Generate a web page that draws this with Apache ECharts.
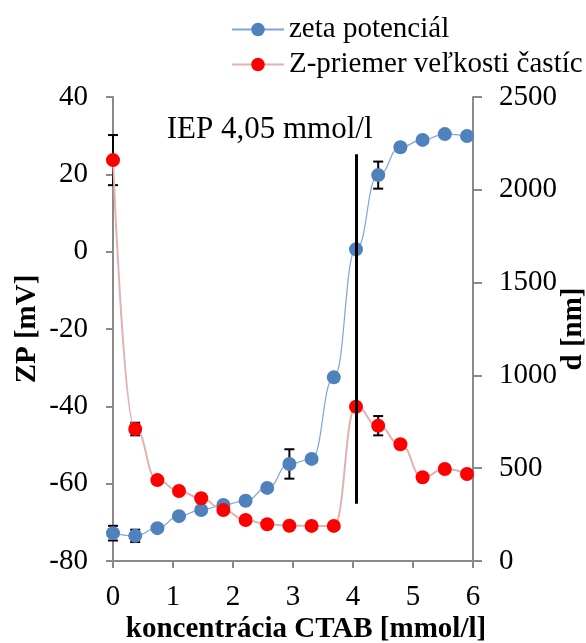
<!DOCTYPE html>
<html>
<head>
<meta charset="utf-8">
<script src="https://cdn.jsdelivr.net/npm/echarts@6/dist/echarts.min.js"></script>
<style>
  html, body { margin: 0; padding: 0; background: #fff; }
  #chart { width: 586px; height: 643px; }
</style>
</head>
<body>
<div id="chart"></div>
<script>
// CTAB concentration [mmol/l]
const concentration = [0, 0.37, 0.74, 1.10, 1.47, 1.84, 2.21, 2.57, 2.94, 3.31, 3.68, 4.05, 4.42, 4.79, 5.16, 5.53, 5.90];
// zeta potential [mV]
const zetaPotential = [-72.8, -73.5, -71.5, -68.4, -66.8, -65.5, -64.4, -61.1, -54.9, -53.6, -32.5, 0.6, 19.8, 27.0, 28.9, 30.4, 29.9];
const zetaError     = [1.9, 1.6, 0, 0, 0, 0, 0, 0, 3.8, 0, 0, 0, 3.5, 0, 0, 0, 0];
// Z-average particle size [nm]
const particleSize  = [2160, 711, 436, 377, 338, 275, 221, 198, 190, 189, 189, 831, 729, 629, 451, 496, 469];
const sizeError     = [135, 34, 0, 0, 0, 0, 0, 0, 0, 0, 0, 0, 52, 0, 0, 20, 0];

// isoelectric point
const iepConcentration = 4.05;
const iepLineRange = [-65.2, 25.2];
const iepLabel = 'IEP 4,05 mmol/l';
const iepLabelAt = [2.61, 31.5];

// axis scales
const xTicks = { min: 0, max: 6, interval: 1 };
const zpTicks = { min: -80, max: 40, interval: 20 };
const dTicks = { min: 0, max: 2500, interval: 500 };

const FONT = '"Liberation Serif", "Times New Roman", serif';
const AXIS_GREY = '#8a8a8a';

function pairs(xs, ys) { return xs.map((x, i) => [x, ys[i]]); }
function errorItems(xs, ys, es) {
  const out = [];
  xs.forEach((x, i) => { if (es[i] > 0) out.push([x, ys[i], es[i]]); });
  return out;
}

function renderErrorBar(params, api) {
  const x = api.value(0), y = api.value(1), e = api.value(2);
  const top = api.coord([x, y + e]);
  const bot = api.coord([x, y - e]);
  const cap = 5;
  const style = { stroke: '#000', lineWidth: 2 };
  return {
    type: 'group',
    children: [
      { type: 'line', shape: { x1: top[0], y1: top[1], x2: bot[0], y2: bot[1] }, style },
      { type: 'line', shape: { x1: top[0] - cap, y1: top[1], x2: top[0] + cap, y2: top[1] }, style },
      { type: 'line', shape: { x1: bot[0] - cap, y1: bot[1], x2: bot[0] + cap, y2: bot[1] }, style }
    ]
  };
}

function axisCommon() {
  return {
    axisLine: { show: true, onZero: false, lineStyle: { color: AXIS_GREY, width: 2 } },
    axisTick: { show: true, length: 7, lineStyle: { color: AXIS_GREY, width: 2 } },
    axisLabel: { color: '#000', fontFamily: FONT, fontSize: 29 },
    splitLine: { show: false },
    nameMoveOverlap: false,
    nameTextStyle: { color: '#000', fontFamily: FONT, fontSize: 29, fontWeight: 'bold' }
  };
}

const plain = (v) => String(v);

const chart = echarts.init(document.getElementById('chart'), null, { renderer: 'canvas' });

chart.setOption({
  animation: false,
  backgroundColor: '#fff',
  grid: { left: 113, right: 113, top: 97, bottom: 82, containLabel: false, outerBoundsMode: 'none' },
  legend: {
    data: ['zeta potenciál', 'Z-priemer veľkosti častíc'],
    orient: 'vertical',
    left: 226,
    top: 9,
    itemWidth: 52,
    itemHeight: 17,
    itemGap: 4,
    textStyle: { color: '#000', fontFamily: FONT, fontSize: 29, lineHeight: 31 }
  },
  xAxis: Object.assign(axisCommon(), {
    type: 'value',
    min: xTicks.min, max: xTicks.max, interval: xTicks.interval,
    name: 'koncentrácia CTAB [mmol/l]',
    nameLocation: 'middle',
    nameGap: 54,
    nameTextStyle: { color: '#000', fontFamily: FONT, fontSize: 29, fontWeight: 'bold', padding: [0, 0, 0, 26] },
    axisLabel: { color: '#000', fontFamily: FONT, fontSize: 29, margin: 22, formatter: plain }
  }),
  yAxis: [
    Object.assign(axisCommon(), {
      type: 'value',
      position: 'left',
      min: zpTicks.min, max: zpTicks.max, interval: zpTicks.interval,
      name: 'ZP [mV]',
      nameLocation: 'middle',
      nameRotate: 90,
      nameGap: 71,
      axisLabel: { color: '#000', fontFamily: FONT, fontSize: 29, margin: 25, formatter: plain }
    }),
    Object.assign(axisCommon(), {
      type: 'value',
      position: 'right',
      min: dTicks.min, max: dTicks.max, interval: dTicks.interval,
      name: 'd [nm]',
      nameLocation: 'middle',
      nameRotate: 90,
      nameGap: 86,
      axisTick: { show: true, length: 9, lineStyle: { color: AXIS_GREY, width: 2 } },
      axisLabel: { color: '#000', fontFamily: FONT, fontSize: 29, margin: 26, formatter: plain }
    })
  ],
  series: [
    {
      name: 'zeta potenciál',
      type: 'line',
      yAxisIndex: 0,
      data: pairs(concentration, zetaPotential),
      smooth: 0.5,
      smoothMonotone: 'x',
      symbol: 'circle',
      symbolSize: 14,
      itemStyle: { color: '#4F81BD' },
      lineStyle: { color: '#7FA5D6', width: 1.2 },
      z: 4,
      markLine: {
        silent: true,
        symbol: 'none',
        label: { show: false },
        lineStyle: { color: '#000', width: 3, type: 'solid' },
        data: [[{ coord: [iepConcentration, iepLineRange[0]] }, { coord: [iepConcentration, iepLineRange[1]] }]]
      },
      markPoint: {
        silent: true,
        symbol: 'circle',
        symbolSize: 0,
        label: {
          show: true,
          position: 'inside',
          formatter: iepLabel,
          color: '#000',
          fontFamily: FONT,
          fontSize: 31
        },
        data: [{ coord: iepLabelAt }]
      }
    },
    {
      name: 'Z-priemer veľkosti častíc',
      type: 'line',
      yAxisIndex: 1,
      data: pairs(concentration, particleSize),
      smooth: 0.5,
      smoothMonotone: 'x',
      symbol: 'circle',
      symbolSize: 14,
      itemStyle: { color: '#FF0000' },
      lineStyle: { color: '#E4B1B0', width: 2 },
      z: 4
    },
    {
      name: 'zeta error',
      type: 'custom',
      yAxisIndex: 0,
      renderItem: renderErrorBar,
      data: errorItems(concentration, zetaPotential, zetaError),
      silent: true,
      z: 2
    },
    {
      name: 'size error',
      type: 'custom',
      yAxisIndex: 1,
      renderItem: renderErrorBar,
      data: errorItems(concentration, particleSize, sizeError),
      silent: true,
      z: 2
    }
  ]
});
</script>
</body>
</html>
